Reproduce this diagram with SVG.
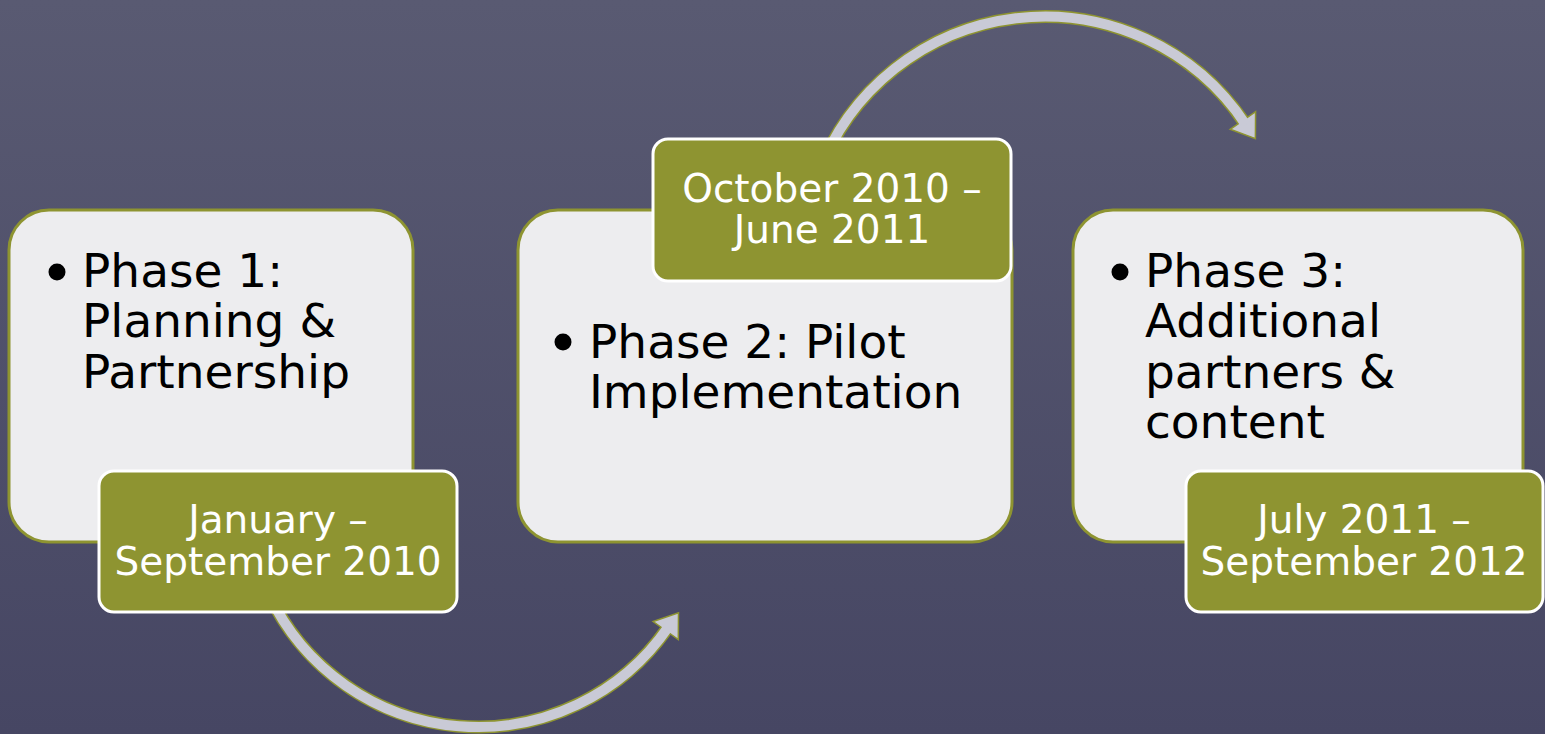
<svg xmlns="http://www.w3.org/2000/svg" width="1545" height="734" viewBox="0 0 1545 734">
<defs>
<linearGradient id="bg" x1="0" y1="0" x2="0" y2="1">
<stop offset="0" stop-color="#595a72"/>
<stop offset="1" stop-color="#464663"/>
</linearGradient>
<style>
.box{fill:#ededef;stroke:#8e9431;stroke-width:3}
.lab{fill:#8e9431;stroke:#ffffff;stroke-width:3}
.bt{font-family:"DejaVu Sans",Verdana,sans-serif;font-size:47px;fill:#000}
.dt{font-family:"DejaVu Sans",Verdana,sans-serif;font-size:39px;fill:#fff;text-anchor:middle}
.bul{fill:#000}
.shO{fill:none;stroke:#8e9431;stroke-width:13}
.shI{fill:none;stroke:#c9cad6;stroke-width:10}
.head{fill:#c9cad6;stroke:#8e9431;stroke-width:1.5;stroke-linejoin:miter}
</style>
</defs>
<rect x="0" y="0" width="1545" height="734" fill="url(#bg)"/>
<g id="connectors">
<g id="arrow-1-2">
<path class="shO" d="M 268.6 593.6 A 231 231 0 0 0 665.7 630.6"/>
<polygon class="head" points="678.5,612.7 678.3,639.6 653.1,621.6"/>
<path class="shI" d="M 268.6 593.6 A 231 231 0 0 0 668.4 626.8"/>
</g>
<g id="arrow-2-3">
<path class="shO" d="M 817.8 175.3 A 241.3 241.3 0 0 1 1242.9 120.5"/>
<polygon class="head" points="1255.4,138.6 1255.6,111.7 1230.2,129.3"/>
<path class="shI" d="M 817.8 175.3 A 241.3 241.3 0 0 1 1245.6 124.4"/>
</g>
</g>
<g id="phase1">
<rect class="box" x="9" y="210" width="404" height="332" rx="40"/>
<circle class="bul" cx="57" cy="272" r="8.5"/>
<text class="bt"><tspan x="82" y="287">Phase 1:</tspan><tspan x="82" y="337">Planning &amp;</tspan><tspan x="82" y="388">Partnership</tspan></text>
</g>
<g id="date1">
<rect class="lab" x="99" y="471" width="358" height="141" rx="15"/>
<text class="dt"><tspan x="278" y="533">January –</tspan><tspan x="278" y="575">September 2010</tspan></text>
</g>
<g id="phase2">
<rect class="box" x="518" y="210" width="494" height="332" rx="40"/>
<circle class="bul" cx="563" cy="342" r="8.5"/>
<text class="bt"><tspan x="589" y="358">Phase 2: Pilot</tspan><tspan x="589" y="408">Implementation</tspan></text>
</g>
<g id="date2">
<rect class="lab" x="653" y="139" width="358" height="142" rx="15"/>
<text class="dt"><tspan x="832" y="202">October 2010 –</tspan><tspan x="832" y="243">June 2011</tspan></text>
</g>
<g id="phase3">
<rect class="box" x="1073" y="210" width="450" height="332" rx="40"/>
<circle class="bul" cx="1120" cy="272" r="8.5"/>
<text class="bt"><tspan x="1145" y="287">Phase 3:</tspan><tspan x="1145" y="337">Additional</tspan><tspan x="1145" y="388">partners &amp;</tspan><tspan x="1145" y="438">content</tspan></text>
</g>
<g id="date3">
<rect class="lab" x="1186" y="471" width="357" height="141" rx="15"/>
<text class="dt"><tspan x="1364" y="533">July 2011 –</tspan><tspan x="1364" y="575">September 2012</tspan></text>
</g>
</svg>
